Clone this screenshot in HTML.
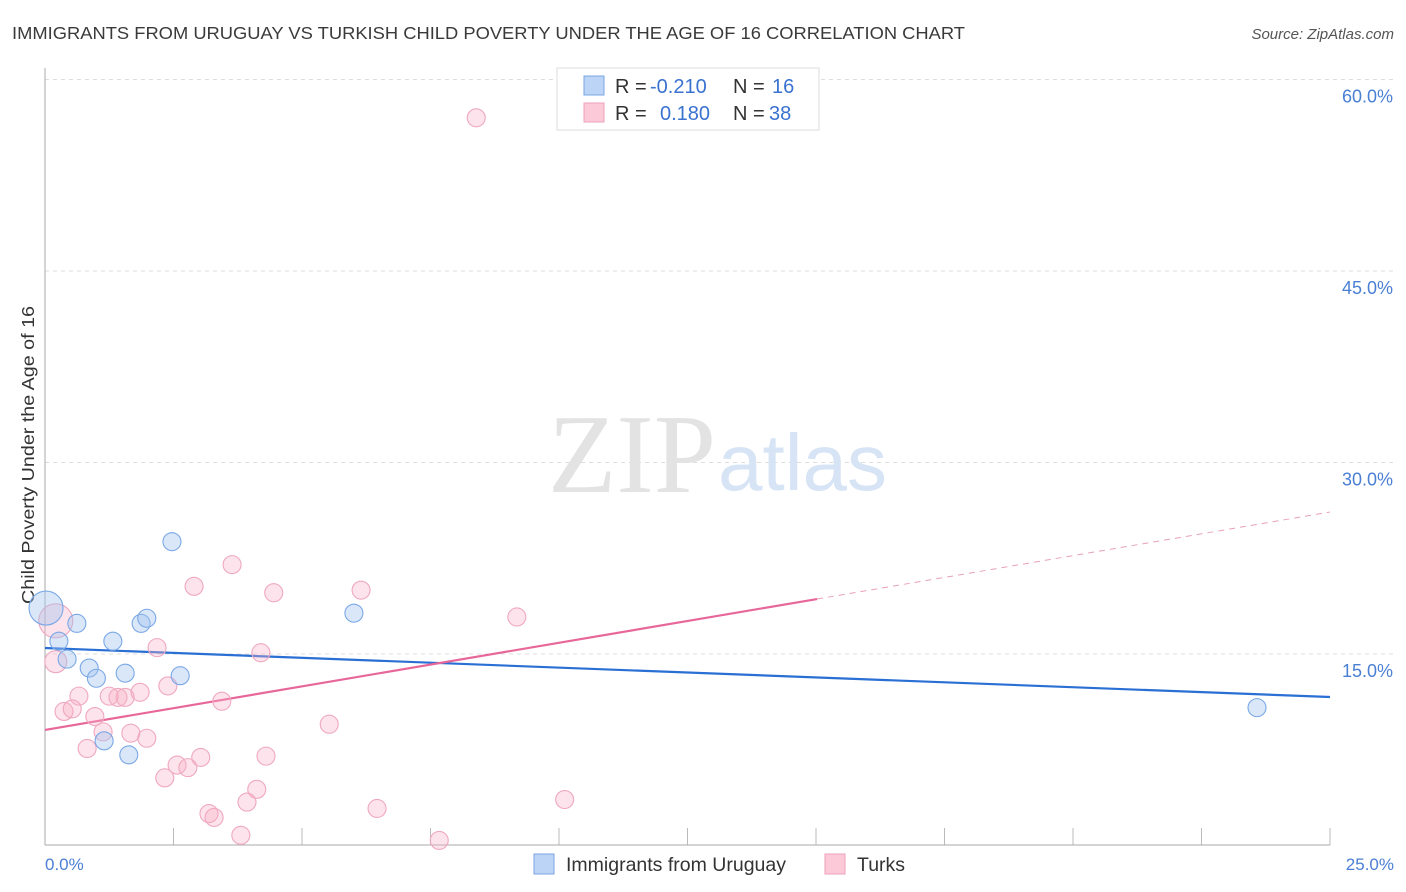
<!DOCTYPE html>
<html><head><meta charset="utf-8"><style>
body{margin:0;background:#fff;font-family:"Liberation Sans",sans-serif}
svg{display:block}
</style></head><body>
<svg id="c" width="1406" height="892">
<text x="12" y="39" font-size="17.5" fill="#3a3a3a" textLength="953" lengthAdjust="spacingAndGlyphs">IMMIGRANTS FROM URUGUAY VS TURKISH CHILD POVERTY UNDER THE AGE OF 16 CORRELATION CHART</text>
<text x="1394" y="39" font-size="15" fill="#555" font-style="italic" text-anchor="end">Source: ZipAtlas.com</text>
<g id="grid"></g>
<text x="716" y="492" font-size="112" fill="#e3e3e3" text-anchor="end" font-family="Liberation Serif">ZIP</text>
<text x="718" y="490" font-size="80" fill="#d6e4f5">atlas</text>
<line x1="45" y1="68" x2="45" y2="845" stroke="#aaa"/>
<line x1="45" y1="845" x2="1330" y2="845" stroke="#aaa"/>
<text transform="translate(34,455) rotate(-90)" font-size="17.5" fill="#333" text-anchor="middle" textLength="298" lengthAdjust="spacingAndGlyphs">Child Poverty Under the Age of 16</text>
<text x="45" y="870" font-size="17" fill="#4a7fd4">0.0%</text>
<text x="1394" y="870" font-size="17" fill="#4a7fd4" text-anchor="end">25.0%</text>
<g id="lines"></g>
<g id="pts"></g>
<g>
<rect x="557" y="68" width="262" height="62" fill="#fff" stroke="#ddd"/>
<rect x="584" y="76" width="20" height="19" fill="#bcd4f5" stroke="#7aa6e3"/>
<rect x="584" y="103" width="20" height="19" fill="#fcc9d8" stroke="#eea0b8"/>
<text x="615" y="93" font-size="20" fill="#333">R = <tspan x="650" fill="#3a72d0">-0.210</tspan><tspan x="733">N = </tspan><tspan x="772" fill="#3a72d0">16</tspan></text>
<text x="615" y="120" font-size="20" fill="#333">R = <tspan x="660" fill="#3a72d0">0.180</tspan><tspan x="733">N = </tspan><tspan x="769" fill="#3a72d0">38</tspan></text>
</g>
<g>
<rect x="534" y="854" width="20" height="20" fill="#bcd4f5" stroke="#7aa6e3"/>
<text x="566" y="871" font-size="19.5" fill="#333">Immigrants from Uruguay</text>
<rect x="825" y="854" width="20" height="20" fill="#fcc9d8" stroke="#eea0b8"/>
<text x="857" y="871" font-size="19.5" fill="#333">Turks</text>
</g>
</svg>
<script>
const yTicks=[15,30,45,60];
const yTickLabels=["15.0%","30.0%","45.0%","60.0%"];
const xTicks=[0,2.5,5,7.5,10,12.5,15,17.5,20,22.5,25];
const blueX=[0.02,0.62,0.27,0.43,0.86,1.0,1.32,1.56,1.87,1.98,2.47,2.63,1.15,1.63,6.01,23.58];
const blueY=[18.6,17.4,16.0,14.6,13.9,13.1,16.0,13.5,17.4,17.8,23.8,13.3,8.2,7.1,18.2,10.8];
const blueR=[17,9,9,9,9,9,9,9,9,9,9,9,9,9,9,9];
const pinkX=[3.64,2.90,4.45,6.15,0.21,2.18,4.20,0.21,0.66,0.37,0.53,0.97,1.25,1.42,1.56,1.85,2.39,3.44,1.13,1.67,1.98,0.82,5.53,4.30,2.57,2.78,3.03,2.33,4.12,3.93,6.46,3.19,3.29,3.81,8.39,9.18,10.11,7.67];
const pinkY=[22.0,20.3,19.8,20.0,17.6,15.5,15.1,14.4,11.7,10.5,10.7,10.1,11.7,11.6,11.6,12.0,12.5,11.3,8.9,8.8,8.4,7.6,9.5,7.0,6.3,6.1,6.9,5.3,4.4,3.4,2.9,2.5,2.2,0.8,57.0,17.9,3.6,0.4];
const pinkR=[9,9,9,9,17,9,9,11,9,9,9,9,9,9,9,9,9,9,9,9,9,9,9,9,9,9,9,9,9,9,9,9,9,9,9,9,9,9];
const blueFit=[15.47,11.63];
const pinkFit=[9.05,26.12];
const pinkSolidEnd=15.02;
const X=v=>45+v/25*1285, Y=v=>845.5-v/15*191.5;
const NS="http://www.w3.org/2000/svg";
function mk(p,t,a){const e=document.createElementNS(NS,t);for(const k in a)e.setAttribute(k,a[k]);p.appendChild(e);return e;}
const g=document.getElementById('grid');
yTicks.forEach((t,i)=>{
 const l=mk(g,'line',{x1:45,x2:1394,y1:Y(t),y2:Y(t),stroke:'#ddd','stroke-dasharray':'4,4'});
 
 
 const tx=mk(g,'text',{x:1393,y:Y(t)+23,'font-size':18,fill:'#4a7fd4','text-anchor':'end'});
 tx.textContent=yTickLabels[i];
 
 
});
xTicks.forEach(t=>{
 const l=mk(g,'line',{x1:X(t),x2:X(t),y1:828,y2:845,stroke:'#bbb'});
 
 
});
const L=document.getElementById('lines');
const bl=mk(L,'line',{x1:X(0),y1:Y(blueFit[0]),x2:X(25),y2:Y(blueFit[1]),stroke:'#2a6fd4','stroke-width':2.2});


const pf=x=>pinkFit[0]+(pinkFit[1]-pinkFit[0])*x/25;
const pl=mk(L,'line',{x1:X(0),y1:Y(pf(0)),x2:X(pinkSolidEnd),y2:Y(pf(pinkSolidEnd)),stroke:'#e8679a','stroke-width':2.2});


const pd=mk(L,'line',{x1:X(pinkSolidEnd),y1:Y(pf(pinkSolidEnd)),x2:X(25),y2:Y(pf(25)),stroke:'#e8a0b8','stroke-width':1,'stroke-dasharray':'6,5'});


const P=document.getElementById('pts');
pinkX.forEach((x,i)=>{
 const c=mk(P,'circle',{cx:X(x),cy:Y(pinkY[i]),r:pinkR[i],fill:'rgba(248,175,198,0.35)',stroke:'#efa8bf','stroke-width':1.1});
 
 
});
blueX.forEach((x,i)=>{
 const c=mk(P,'circle',{cx:X(x),cy:Y(blueY[i]),r:blueR[i],fill:'rgba(160,196,240,0.4)',stroke:'#7aa8e6','stroke-width':1.1});
 
 
});
</script>
</body></html>
